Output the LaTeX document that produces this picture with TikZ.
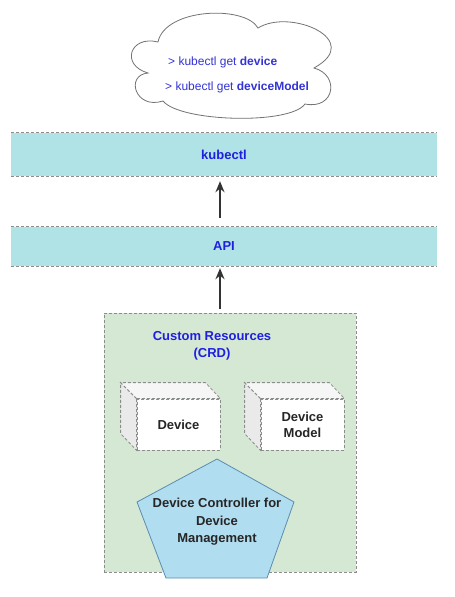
\documentclass[tikz,border=0pt]{standalone}
\usepackage{fontspec}
\setmainfont{Liberation Sans}
\usetikzlibrary{arrows.meta}
\definecolor{barfill}{HTML}{B0E3E6}
\definecolor{greenfill}{HTML}{D5E8D4}
\definecolor{pentfill}{HTML}{B1DDF0}
\definecolor{pentdraw}{HTML}{5A8DB0}
\definecolor{titleblue}{HTML}{1F1FE0}
\definecolor{cmdblue}{HTML}{3434D4}
\definecolor{dashgray}{HTML}{8C8C8C}
\definecolor{sidegray}{HTML}{EAEAEA}
\definecolor{topgray}{HTML}{F6F6F6}
\tikzset{
  bar/.style={rectangle, fill=barfill, minimum width=426pt, inner sep=0pt, text=titleblue, font=\fontsize{13}{17}\selectfont\bfseries},
  bardash/.style={draw=dashgray, densely dashed, line width=0.8pt},
  arr/.style={draw=black!80, line width=1.8pt, -{Stealth[length=11pt,width=9pt]}},
  crdbox/.style={rectangle, fill=greenfill, draw=dashgray, densely dashed, line width=0.6pt, inner sep=0pt},
  titletext/.style={text=titleblue, align=center, font=\fontsize{13}{17}\selectfont\bfseries},
  frontface/.style={rectangle, fill=white, draw=dashgray, densely dashed, line width=0.8pt, minimum width=83pt, minimum height=51pt, inner sep=0pt, align=center, text=black!85, font=\fontsize{13}{16}\selectfont\bfseries},
  sideface/.style={fill=sidegray, draw=dashgray, densely dashed, line width=0.8pt},
  topface/.style={fill=topgray, draw=dashgray, densely dashed, line width=0.8pt},
  pent/.style={fill=pentfill, draw=pentdraw, line width=0.8pt},
  penttext/.style={align=center, text=black!85, font=\fontsize{13}{17.5}\selectfont\bfseries},
  cloudline/.style={draw=black!55, fill=white, line width=0.8pt},
  cmdtext/.style={anchor=west, inner sep=0pt, text=cmdblue, font=\fontsize{12}{14}\selectfont}
}
\begin{document}
\begin{tikzpicture}[x=1pt,y=-1pt]
\useasboundingbox (0,0) rectangle (455,597);
\fill[white] (0,0) rectangle (455,597);

% cloud
\path[cloudline] (158,42)
  .. controls (165,8) and (245,5) .. (258,28)
  .. controls (290,8) and (365,40) .. (314,68)
  .. controls (340,75) and (335,110) .. (305,104)
  .. controls (290,125) and (180,122) .. (163,101)
  .. controls (135,110) and (125,75) .. (148,73)
  .. controls (120,65) and (130,35) .. (158,42) -- cycle;
\node[cmdtext] (cmd1) at (168,62) {> kubectl get \textbf{device}};
\node[cmdtext] (cmd2) at (165,87) {> kubectl get \textbf{deviceModel}};

% bars
\node[bar, minimum height=43pt] (kubectl) at (224,154.5) {kubectl};
\draw[bardash] (kubectl.north west) -- (kubectl.north east);
\draw[bardash] (kubectl.south west) -- (kubectl.south east);
\node[bar, minimum height=39pt] (api) at (224,246.5) {API};
\draw[bardash] (api.north west) -- (api.north east);
\draw[bardash] (api.south west) -- (api.south east);

% CRD box
\node[crdbox, minimum width=252pt, minimum height=259pt] (crd) at (230,442.5) {};
\node[titletext] (crdtitle) at (212,346) {Custom Resources\\(CRD)};

% arrows
\draw[arr, shorten <=9pt, shorten >=5pt] ([xshift=-4pt]api.north) -- ([xshift=-4pt]kubectl.south);
\draw[arr, shorten <=4pt, shorten >=2pt] ([xshift=-10pt]crd.north) -- ([xshift=-4pt]api.south);

% cubes
\node[frontface] (device) at (178.5,424.5) {Device};
\draw[sideface] (device.north west) -- ++(-16,-16) -- ++(0,51) -- (device.south west) -- cycle;
\draw[topface] (device.north west) -- ++(-16,-16) -- ([shift={(-15,-16)}]device.north east) -- (device.north east) -- cycle;

\node[frontface] (model) at (302.5,424.5) {Device\\Model};
\draw[sideface] (model.north west) -- ++(-16,-16) -- ++(0,51) -- (model.south west) -- cycle;
\draw[topface] (model.north west) -- ++(-16,-16) -- ([shift={(-15,-16)}]model.north east) -- (model.north east) -- cycle;

% pentagon
\draw[pent] (217,459) -- (294,502) -- (267,578) -- (166,578) -- (137,502) -- cycle;
\node[penttext] (ctrl) at (217,522) {Device Controller for\\Device\\Management};
\end{tikzpicture}
\end{document}
